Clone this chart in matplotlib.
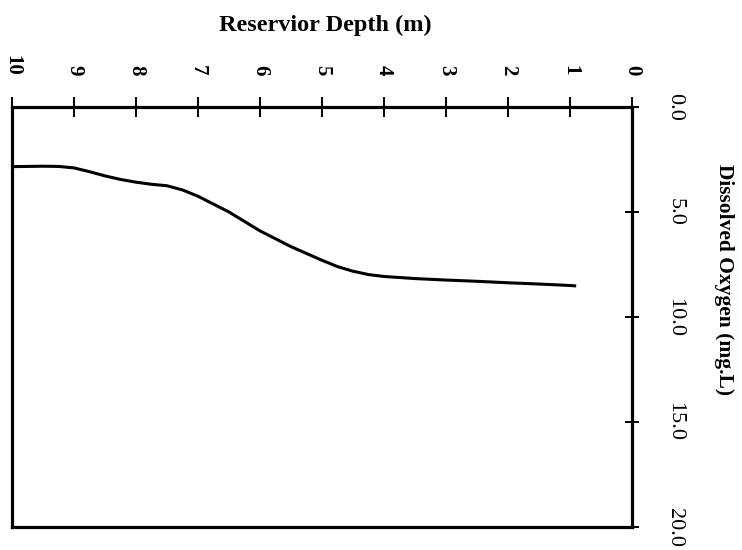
import matplotlib
matplotlib.use("Agg")
import matplotlib.pyplot as plt

depth = [0.9, 1.0, 1.5, 2.0, 2.5, 3.0, 3.5, 4.0, 4.25, 4.5, 4.75, 5.0, 5.5, 6.0, 6.5, 7.0, 7.25, 7.5, 7.75, 8.0, 8.25, 8.5, 8.75, 9.0, 9.25, 9.5, 10.0]
oxygen = [8.52, 8.5, 8.43, 8.37, 8.3, 8.24, 8.17, 8.07, 7.98, 7.82, 7.6, 7.3, 6.65, 5.9, 5.0, 4.25, 3.95, 3.75, 3.68, 3.58, 3.45, 3.28, 3.08, 2.9, 2.83, 2.82, 2.84]
depth_ticks = [0, 1, 2, 3, 4, 5, 6, 7, 8, 9, 10]
do_ticks = [0.0, 5.0, 10.0, 15.0, 20.0]
do_tick_labels = ["0.0", "5.0", "10.0", "15.0", "20.0"]

plt.rcParams['font.family'] = ['Liberation Serif', 'DejaVu Serif']

fig = plt.figure(figsize=(7.42, 5.5), dpi=100)
ax = fig.add_axes([12/742, 1-527/550, (632-12)/742, (527-107)/550])

ax.plot(depth, oxygen, color='black', lw=2.2, solid_capstyle='butt',
        solid_joinstyle='round')
ax.set_xlim(10, 0)
ax.set_ylim(20, 0)

for s in ax.spines.values():
    s.set_linewidth(2.3)

ax.set_xticks(depth_ticks)
ax.set_xticklabels([str(t) for t in depth_ticks])
ax.set_yticks(do_ticks)
ax.set_yticklabels(do_tick_labels)

ax.xaxis.set_ticks_position('top')
ax.yaxis.set_ticks_position('right')
ax.tick_params(axis='x', direction='inout', length=15, width=1.4, pad=15,
               labelsize=15, labelrotation=-90)
ax.tick_params(axis='y', direction='inout', length=10, width=1.4, pad=19,
               labelsize=16, labelrotation=-90)
for lab in ax.get_xticklabels():
    lab.set_fontweight('bold')
for lab in ax.get_yticklabels():
    lab.set_verticalalignment('center')

fig.text(325/742, 1-25/550, "Reservior Depth (m)", ha='center', va='center',
         fontsize=17.5, fontweight='bold')
fig.text(724/742, 1-280/550, "Dissolved Oxygen (mg.L)", ha='center', va='center',
         fontsize=15.5, fontweight='bold', rotation=-90)

fig.savefig("out.png", dpi=100)
